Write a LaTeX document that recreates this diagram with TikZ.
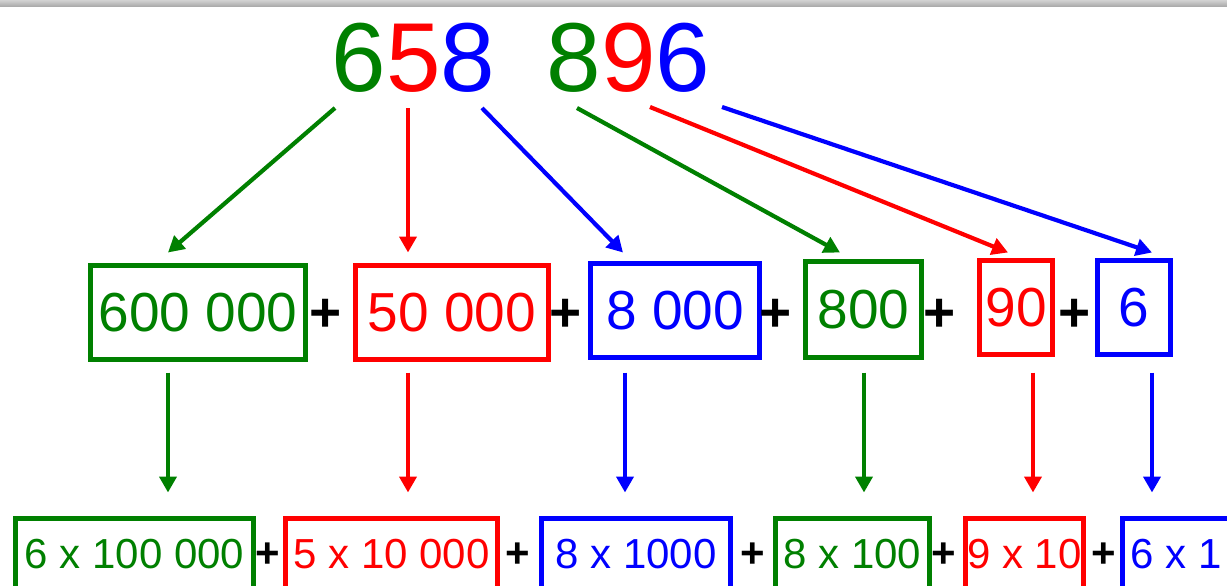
\documentclass[tikz,border=0pt]{standalone}
\usepackage{fontspec}
\setmainfont{Liberation Sans}
\usetikzlibrary{arrows.meta,calc}
\definecolor{dg}{RGB}{0,128,0}
\definecolor{rd}{RGB}{255,0,0}
\definecolor{bl}{RGB}{0,0,255}
\tikzset{
 digit/.style={inner sep=0pt, outer sep=0pt, text=#1, font=\fontsize{98}{100}\selectfont},
 midbox/.style={draw=#1, text=#1, line width=5pt, inner sep=0pt, outer sep=0pt, font=\fontsize{55}{60}\selectfont},
 lowbox/.style={draw=#1, text=#1, line width=5pt, inner sep=0pt, outer sep=0pt, font=\fontsize{42}{46}\selectfont},
 arr/.style={draw=#1, line width=4.2pt, -{Triangle[length=16pt,width=17pt]}},
 plusbig/.style={inner sep=0pt, font=\fontsize{55}{60}\selectfont\bfseries},
 plussmall/.style={inner sep=0pt, font=\fontsize{42}{46}\selectfont\bfseries},
}
\begin{document}
\begin{tikzpicture}[x=1pt,y=-1pt]
\clip (0,0) rectangle (1227,586);
\fill[white] (0,0) rectangle (1227,586);
\shade[top color=gray!35, bottom color=gray!70] (0,0) rectangle (1227,7);

% top number
\node[digit=dg] (d1) at (359,58) {6};
\node[digit=rd] (d2) at (414,58) {5};
\node[digit=bl] (d3) at (468,58) {8};
\node[digit=dg] (d4) at (574,58) {8};
\node[digit=rd] (d5) at (629,58) {9};
\node[digit=bl] (d6) at (683,58) {6};

% middle row
\node[midbox=dg, minimum width=215pt, minimum height=94pt] (m1) at (198,312.5) {600 000};
\node[midbox=rd, minimum width=193pt, minimum height=94pt] (m2) at (452,312.5) {50 000};
\node[midbox=bl, minimum width=169pt, minimum height=94pt] (m3) at (675,310.5) {8 000};
\node[midbox=dg, minimum width=116pt, minimum height=96pt] (m4) at (863.5,309.5) {800};
\node[midbox=rd, minimum width=73pt, minimum height=94pt] (m5) at (1016,307.5) {90};
\node[midbox=bl, minimum width=73pt, minimum height=94pt] (m6) at (1134,307.5) {6};

\node[plusbig] (p1) at (326,315) {+};
\node[plusbig] (p2) at (566,315) {+};
\node[plusbig] (p3) at (776,315) {+};
\node[plusbig] (p4) at (940,315) {+};
\node[plusbig] (p5) at (1075,315) {+};

% bottom row
\node[lowbox=dg, minimum width=238pt, minimum height=71pt] (b1) at (134.5,554) {6 x 100 000};
\node[lowbox=rd, minimum width=212pt, minimum height=71pt] (b2) at (391.5,554) {5 x 10 000};
\node[lowbox=bl, minimum width=189pt, minimum height=71pt] (b3) at (636,554) {8 x 1000};
\node[lowbox=dg, minimum width=154pt, minimum height=71pt] (b4) at (852.5,554) {8 x 100};
\node[lowbox=rd, minimum width=118pt, minimum height=71pt] (b5) at (1024.5,554) {9 x 10};
\node[lowbox=bl, minimum width=107pt, minimum height=71pt] (b6) at (1176,554) {6 x 1};

\node[plussmall] (q1) at (268,555) {+};
\node[plussmall] (q2) at (518,555) {+};
\node[plussmall] (q3) at (753,555) {+};
\node[plussmall] (q4) at (944,555) {+};
\node[plussmall] (q5) at (1104,555) {+};

% arrows from digits to middle boxes
\draw[arr=dg] ($(d1)+(-24,50)$) -- ($(m1.north)+(-30,-13)$);
\draw[arr=rd] ($(d2)+(-6,50)$) -- ($(m2.north)+(-44,-13)$);
\draw[arr=bl] ($(d3)+(14,50)$) -- ($(m3.north)+(-52,-11)$);
\draw[arr=dg] ($(d4)+(3,50)$) -- ($(m4.north)+(-23.5,-9)$);
\draw[arr=rd] ($(d5)+(21,49)$) -- ($(m5.north)+(-8,-8)$);
\draw[arr=bl] ($(d6)+(39,49)$) -- ($(m6.north)+(18,-8)$);

% arrows from middle boxes to bottom boxes
\draw[arr=dg] ($(m1.south)+(-30,13)$) -- ($(b1.north)+(33.5,-26)$);
\draw[arr=rd] ($(m2.south)+(-44,13)$) -- ($(b2.north)+(16.5,-26)$);
\draw[arr=bl] ($(m3.south)+(-50,15)$) -- ($(b3.north)+(-11,-26)$);
\draw[arr=dg] ($(m4.south)+(0.5,15)$) -- ($(b4.north)+(11.5,-26)$);
\draw[arr=rd] ($(m5.south)+(17,18)$) -- ($(b5.north)+(8.5,-26)$);
\draw[arr=bl] ($(m6.south)+(18,18)$) -- ($(b6.north)+(-24,-26)$);
\end{tikzpicture}
\end{document}
